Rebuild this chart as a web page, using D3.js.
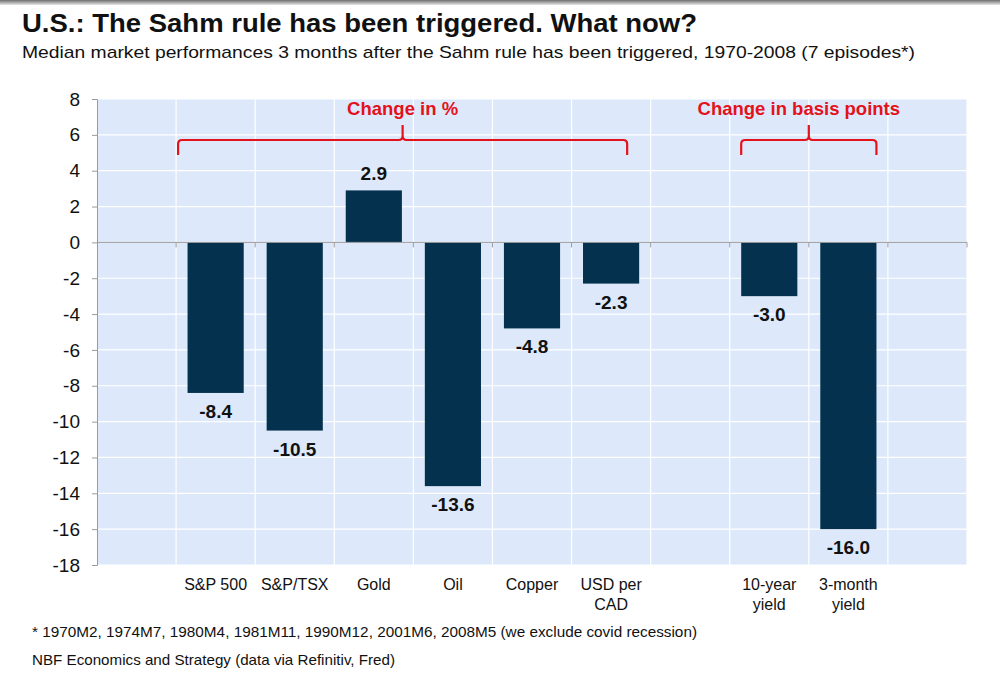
<!DOCTYPE html>
<html>
<head>
<meta charset="utf-8">
<script src="https://cdn.jsdelivr.net/npm/d3@7"></script>
<style>
  body { margin: 0; background: #fff; }
  svg { display: block; font-family: "Liberation Sans", Arial, sans-serif; }
</style>
</head>
<body>
<script>
// slots on the x axis, blanks keep the empty columns of the original
var slots = ["", "S&P 500", "S&P/TSX", "Gold", "Oil", "Copper", "USD per CAD", " ", "10-year yield", "3-month yield", "  "];
var categories = ["S&P 500", "S&P/TSX", "Gold", "Oil", "Copper", "USD per CAD", "10-year yield", "3-month yield"];
var values = [-8.4, -10.5, 2.9, -13.6, -4.8, -2.3, -3.0, -16.0];
var xLabelLines = {
  "S&P 500": ["S&P 500"], "S&P/TSX": ["S&P/TSX"], "Gold": ["Gold"], "Oil": ["Oil"],
  "Copper": ["Copper"], "USD per CAD": ["USD per", "CAD"],
  "10-year yield": ["10-year", "yield"], "3-month yield": ["3-month", "yield"]
};
var yTicks = [8, 6, 4, 2, 0, -2, -4, -6, -8, -10, -12, -14, -16, -18];
var groups = [
  { label: "Change in %", from: "S&P 500", to: "USD per CAD" },
  { label: "Change in basis points", from: "10-year yield", to: "3-month yield" }
];

var W = 1000, H = 679;
var plot = { left: 97, right: 967, top: 99, bottom: 565 };

var svg = d3.select("body").append("svg").attr("width", W).attr("height", H);

// screenshot edge at top
var edge = svg.append("defs").append("linearGradient").attr("id", "edge")
  .attr("x1", "0%").attr("x2", "0%").attr("y1", "0%").attr("y2", "100%");
edge.append("stop").attr("offset", "0%").attr("stop-color", "#6e6e6e");
edge.append("stop").attr("offset", "100%").attr("stop-color", "#e6e6e6");
svg.append("rect").attr("x", 0).attr("y", 0).attr("width", W).attr("height", 5).attr("fill", "url(#edge)");

var x = d3.scaleBand().domain(slots).range([plot.left, plot.right]).paddingInner(0).paddingOuter(0);
var y = d3.scaleLinear().domain([-18, 8]).range([plot.bottom, plot.top]);
var barW = x.bandwidth() * 0.71;

// background + grid
svg.append("rect")
  .attr("x", plot.left).attr("y", plot.top)
  .attr("width", plot.right - plot.left).attr("height", plot.bottom - plot.top)
  .attr("fill", "#dde9fa");

svg.append("g").selectAll("line").data(yTicks).enter().append("line")
  .attr("x1", plot.left).attr("x2", plot.right)
  .attr("y1", function (d) { return y(d); }).attr("y2", function (d) { return y(d); })
  .attr("stroke", "#fff").attr("stroke-width", 1.2);

svg.append("g").selectAll("line").data(slots.slice(1)).enter().append("line")
  .attr("x1", function (d) { return x(d); }).attr("x2", function (d) { return x(d); })
  .attr("y1", plot.top).attr("y2", plot.bottom)
  .attr("stroke", "#fff").attr("stroke-width", 1.2);
svg.append("line")
  .attr("x1", plot.right).attr("x2", plot.right).attr("y1", plot.top).attr("y2", plot.bottom)
  .attr("stroke", "#fff").attr("stroke-width", 1.2);

// bars
svg.append("g").selectAll("rect").data(categories).enter().append("rect")
  .attr("x", function (d) { return x(d) + (x.bandwidth() - barW) / 2; })
  .attr("width", barW)
  .attr("y", function (d, i) { return y(Math.max(0, values[i])); })
  .attr("height", function (d, i) { return Math.abs(y(values[i]) - y(0)); })
  .attr("fill", "#04314e");

// value labels
svg.append("g").selectAll("text").data(categories).enter().append("text")
  .attr("x", function (d) { return x(d) + x.bandwidth() / 2; })
  .attr("y", function (d, i) { return values[i] < 0 ? y(values[i]) + 25 : y(values[i]) - 10; })
  .attr("text-anchor", "middle")
  .attr("font-size", 19).attr("font-weight", "bold").attr("fill", "#111")
  .text(function (d, i) { return values[i].toFixed(1); });

// y axis
var yAxis = d3.axisLeft(y).tickValues(yTicks).tickSize(5).tickPadding(12).tickFormat(d3.format("d"));
var gy = svg.append("g").attr("transform", "translate(" + plot.left + ",0)").call(yAxis);
gy.select(".domain").attr("stroke", "#9a9a9a");
gy.selectAll(".tick line").attr("stroke", "#9a9a9a");
gy.selectAll(".tick text").attr("font-size", 19).attr("fill", "#111")
  .attr("font-family", "Liberation Sans, Arial, sans-serif")
  .text(function (d) { return d < 0 ? "-" + Math.abs(d) : d; });

// zero line with ticks at slot boundaries
svg.append("line")
  .attr("x1", plot.left).attr("x2", plot.right).attr("y1", y(0)).attr("y2", y(0))
  .attr("stroke", "#9a9a9a").attr("stroke-width", 1);
svg.append("g").selectAll("line").data(slots.slice(1).map(function (d) { return x(d); }).concat([plot.right])).enter().append("line")
  .attr("x1", function (d) { return d; }).attr("x2", function (d) { return d; })
  .attr("y1", y(0)).attr("y2", y(0) + 5)
  .attr("stroke", "#9a9a9a");

// category labels
var xl = svg.append("g").selectAll("text").data(categories).enter().append("text")
  .attr("x", function (d) { return x(d) + x.bandwidth() / 2; })
  .attr("y", 590)
  .attr("text-anchor", "middle")
  .attr("font-size", 16).attr("fill", "#111");
xl.selectAll("tspan").data(function (d) { return xLabelLines[d]; }).enter().append("tspan")
  .attr("x", function () { return this.parentNode.getAttribute("x"); })
  .attr("dy", function (d, i) { return i === 0 ? 0 : 20; })
  .text(function (d) { return d; });

// red brackets
groups.forEach(function (g, gi) {
  var barL = x(g.from) + (x.bandwidth() - barW) / 2;
  var barR = x(g.to) + (x.bandwidth() + barW) / 2;
  var x0 = gi === 0 ? x(g.from) + 2 : barL;
  var x1 = gi === 0 ? barR - 12 : barR;
  var xm = (x0 + x1) / 2;
  var top = 140, bot = 155, r = 4;
  var p = d3.path();
  p.moveTo(x0, bot);
  p.lineTo(x0, top + r);
  p.quadraticCurveTo(x0, top, x0 + r, top);
  p.lineTo(xm - r, top);
  p.quadraticCurveTo(xm, top, xm, top - r);
  p.lineTo(xm, 125);
  p.moveTo(xm, top - r);
  p.quadraticCurveTo(xm, top, xm + r, top);
  p.lineTo(x1 - r, top);
  p.quadraticCurveTo(x1, top, x1, top + r);
  p.lineTo(x1, bot);
  svg.append("path").attr("d", p.toString())
    .attr("fill", "none").attr("stroke", "#e3121b").attr("stroke-width", 2.2);
  svg.append("text")
    .attr("x", gi === 0 ? xm : xm - 10).attr("y", 115)
    .attr("text-anchor", "middle")
    .attr("font-size", 18.5).attr("font-weight", "bold").attr("fill", "#e3121b")
    .text(g.label);
});

// titles
svg.append("text").attr("x", 22).attr("y", 32)
  .attr("font-size", 26).attr("font-weight", "bold").attr("fill", "#111")
  .attr("textLength", 675).attr("lengthAdjust", "spacingAndGlyphs")
  .text("U.S.: The Sahm rule has been triggered. What now?");
svg.append("text").attr("x", 22).attr("y", 58)
  .attr("font-size", 17).attr("fill", "#111")
  .attr("textLength", 893).attr("lengthAdjust", "spacingAndGlyphs")
  .text("Median market performances 3 months after the Sahm rule has been triggered, 1970-2008 (7 episodes*)");

// footnotes
svg.append("text").attr("x", 32).attr("y", 637)
  .attr("font-size", 15).attr("fill", "#111")
  .attr("textLength", 665).attr("lengthAdjust", "spacingAndGlyphs")
  .text("* 1970M2, 1974M7, 1980M4, 1981M11, 1990M12, 2001M6, 2008M5 (we exclude covid recession)");
svg.append("text").attr("x", 32).attr("y", 665)
  .attr("font-size", 15).attr("fill", "#111")
  .attr("textLength", 363).attr("lengthAdjust", "spacingAndGlyphs")
  .text("NBF Economics and Strategy (data via Refinitiv, Fred)");
</script>
</body>
</html>
